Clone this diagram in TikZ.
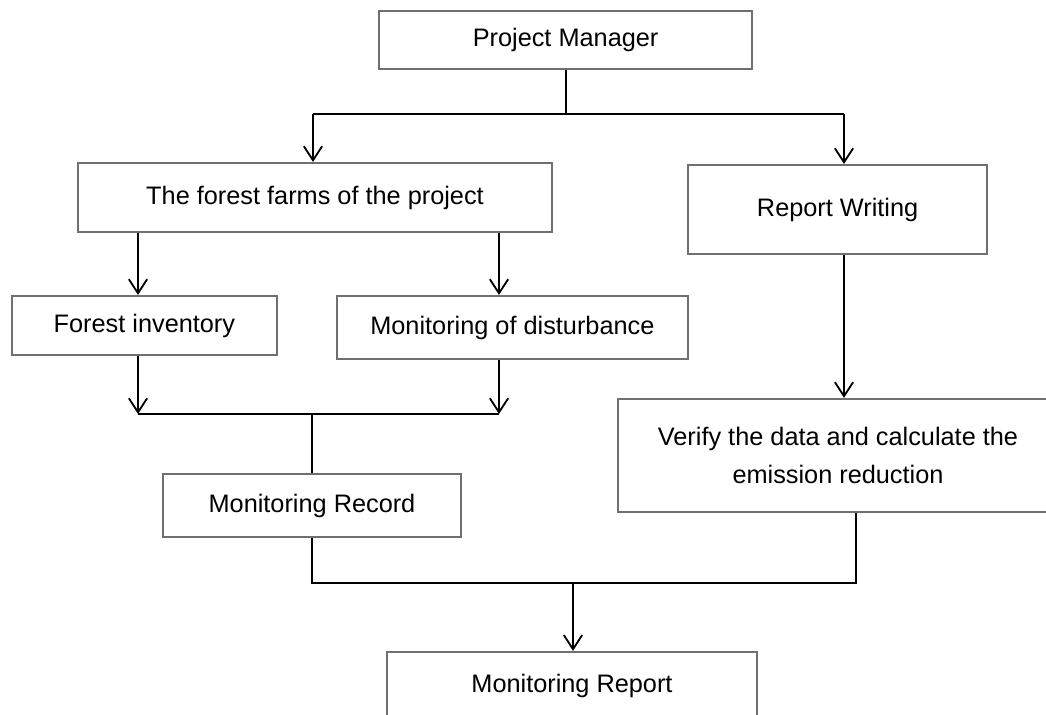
\documentclass[tikz,border=0pt]{standalone}
\usepackage{fontspec}
\setmainfont{Liberation Sans}
\definecolor{mrgray}{RGB}{112,112,112}
\usetikzlibrary{arrows.meta,positioning,calc}

\begin{document}
\begin{tikzpicture}[
  mrbox/.style={draw=mrgray,line width=1.6pt,inner sep=0pt,align=center,
    font=\fontsize{18}{27}\selectfont},
  mrline/.style={line width=1.3pt},
  mrarr/.style={mrline,-{Straight Barb[length=10pt,width=13pt,line width=1.3pt]}}
]
  \useasboundingbox (0,0) rectangle (26.15,-17.875);
  % Top level
  \node[mrbox,minimum width=9.325cm,minimum height=1.45cm] (pm) at (14.14,-1.0) {Project Manager};
  \node[mrbox,minimum width=11.85cm,minimum height=1.725cm] (farms) at (7.875,-4.94) {The forest farms of the project};
  \node[mrbox,minimum width=7.475cm,minimum height=2.225cm] (writing) at (20.94,-5.24) {Report Writing};
  % Field work
  \node[mrbox,minimum width=6.625cm,minimum height=1.475cm] (inv) at (3.61,-8.14) {Forest inventory};
  \node[mrbox,minimum width=8.775cm,minimum height=1.575cm] (dist) at (12.81,-8.19) {Monitoring of disturbance};
  \node[mrbox,minimum width=11.0cm,minimum height=2.825cm] (verify) at (20.95,-11.3875) {Verify the data and calculate the\\emission reduction};
  \node[mrbox,minimum width=7.45cm,minimum height=1.575cm] (record) at (7.8,-12.64) {Monitoring Record};
  \node[mrbox,minimum width=9.25cm,minimum height=1.7cm] (report) at (14.3,-17.15) {Monitoring Report};
  % Junctions
  \coordinate (farmsin) at (7.825,-2.85);
  \coordinate (writein) at (21.1,-2.85);
  \coordinate (invin) at (3.45,-10.35);
  \coordinate (distin) at (12.475,-10.35);
  \coordinate (verifyout) at (21.4,-14.575);
  \coordinate (reportin) at (14.325,-14.575);
  % Arrows
  \draw[mrline] (pm.south) -- (pm.south |- farmsin);
  \draw[mrline] (farmsin) -- (writein);
  \draw[mrarr] (farmsin) -- (farmsin |- farms.north);
  \draw[mrarr] (writein) -- (writein |- writing.north);
  \draw[mrarr] (invin |- farms.south) -- (invin |- inv.north);
  \draw[mrarr] (distin |- farms.south) -- (distin |- dist.north);
  \draw[mrarr] (invin |- inv.south) -- (invin);
  \draw[mrarr] (distin |- dist.south) -- (distin);
  \draw[mrline] (invin) -- (distin);
  \draw[mrline] (record.north |- invin) -- (record.north);
  \draw[mrarr] (writein |- writing.south) -- (writein |- verify.north);
  \draw[mrline] (record.south) |- (verifyout) -- (verifyout |- verify.south);
  \draw[mrarr] (reportin) -- (reportin |- report.north);
\end{tikzpicture}
\end{document}
